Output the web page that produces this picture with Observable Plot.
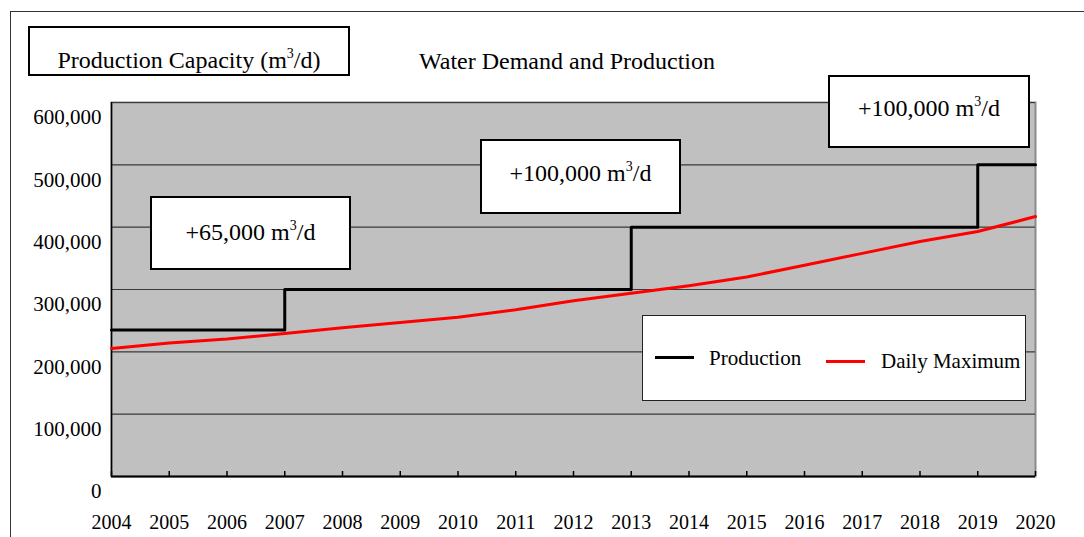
<!DOCTYPE html>
<html>
<head>
<meta charset="utf-8">
<script src="https://cdn.jsdelivr.net/npm/d3@7"></script>
<script src="https://cdn.jsdelivr.net/npm/@observablehq/plot@0.6"></script>
<style>
  html, body { margin: 0; padding: 0; background: #fff; }
  #wrap { position: relative; width: 1084px; height: 537px; overflow: hidden; font-family: "Liberation Serif", "Times New Roman", serif; color: #000; }
  #chart { position: absolute; left: 0; top: 0; }
  .frame { position: absolute; left: 10px; top: 11px; width: 1200px; height: 700px; border-left: 1.5px solid #333; border-top: 1.5px solid #333; }
  .box { position: absolute; background: #fff; border: 2px solid #000; box-sizing: border-box; display: flex; align-items: center; justify-content: center; font-size: 24px; white-space: nowrap; line-height: 1.15; }
  .box span { position: relative; }
  sup { font-size: 14px; vertical-align: 0; position: relative; top: -10px; }
  .txt { position: absolute; font-size: 24px; white-space: nowrap; line-height: 1.15; }
  .legend { position: absolute; background: #fff; border: 1.5px solid #222; box-sizing: border-box; font-size: 21px; }
  .sw { position: absolute; height: 0; }
  .lt { position: absolute; white-space: nowrap; line-height: 1; }
</style>
</head>
<body>
<div id="wrap">
  <div class="frame"></div>
  <div id="chart"></div>
</div>
<script>
const years = [2004, 2005, 2006, 2007, 2008, 2009, 2010, 2011, 2012, 2013, 2014, 2015, 2016, 2017, 2018, 2019, 2020];
const production = [235000, 235000, 235000, 300000, 300000, 300000, 300000, 300000, 300000, 400000, 400000, 400000, 400000, 400000, 400000, 500000, 500000];
const dailyMaximum = [205500, 214000, 220500, 229500, 238500, 247000, 255500, 267500, 282000, 294000, 306000, 320000, 339000, 358000, 377000, 393000, 417000];
const yTicks = [0, 100000, 200000, 300000, 400000, 500000, 600000];
const seriesNames = ["Production", "Daily Maximum"];
const seriesColors = ["#000000", "#ff0000"];
const titleText = "Production Capacity (m<sup>3</sup>/d)";
const subtitleText = "Water Demand and Production";
const annotations = ["+65,000 m<sup>3</sup>/d", "+100,000 m<sup>3</sup>/d", "+100,000 m<sup>3</sup>/d"];

const prodData = years.map((y, i) => ({year: y, value: production[i]}));
const maxData = years.map((y, i) => ({year: y, value: dailyMaximum[i]}));

const plot = Plot.plot({
  width: 1084,
  height: 537,
  marginLeft: 111,
  marginRight: 49,
  marginTop: 102,
  marginBottom: 61,
  style: {fontFamily: "'Liberation Serif', 'Times New Roman', serif", fontSize: "20px", background: "transparent", color: "#000", overflow: "visible"},
  x: {domain: [2004, 2020], ticks: years, label: null},
  y: {domain: [0, 600000], ticks: yTicks, label: null},
  marks: [
    Plot.frame({fill: "#c0c0c0", stroke: "#8a8a8a", strokeWidth: 2}),
    Plot.gridY(yTicks, {stroke: "#3a3a3a", strokeOpacity: 1, strokeWidth: 1.2}),
    Plot.axisY(yTicks, {tickSize: 0, tickPadding: 10, dy: 15, fontSize: 21, label: null, tickFormat: d3.format(",")}),
    Plot.axisX(years, {tickSize: -5, tickFormat: () => "", label: null, stroke: "#000", strokeWidth: 1.5}),
    Plot.axisX(years, {tickSize: 0, tickPadding: 38, label: null, tickFormat: d => String(d)}),
    Plot.ruleX([2004], {stroke: "#000", strokeWidth: 1.5}),
    Plot.ruleY([0], {stroke: "#000", strokeWidth: 2}),
    Plot.line(maxData, {x: "year", y: "value", stroke: seriesColors[1], strokeWidth: 3}),
    Plot.line(prodData, {x: "year", y: "value", stroke: seriesColors[0], strokeWidth: 3, curve: "step-after"})
  ]
});
document.getElementById("chart").appendChild(plot);

const wrap = document.getElementById("wrap");
function addBox(html, l, t, w, h, shift) {
  const d = document.createElement("div");
  d.className = "box";
  d.style.left = l + "px"; d.style.top = t + "px"; d.style.width = w + "px"; d.style.height = h + "px";
  d.innerHTML = `<span style="top:${shift}px">${html}</span>`;
  wrap.appendChild(d);
  return d;
}
// title box
addBox(titleText, 28, 26, 322, 50, 10);
const sub = document.createElement("div");
sub.className = "txt";
sub.style.left = "419px"; sub.style.top = "48px";
sub.textContent = subtitleText;
wrap.appendChild(sub);
// annotation boxes
addBox(annotations[0], 150, 196, 201, 74, 0);
addBox(annotations[1], 480, 139, 201, 75, -3);
addBox(annotations[2], 828, 75, 202, 73, -3);
// legend
const lg = document.createElement("div");
lg.className = "legend";
lg.style.left = "642px"; lg.style.top = "315px"; lg.style.width = "384px"; lg.style.height = "86px";
lg.innerHTML =
  `<div class="sw" style="left:12px;top:40px;width:39px;border-top:3px solid ${seriesColors[0]}"></div>` +
  `<div class="lt" style="left:66px;top:32px">${seriesNames[0]}</div>` +
  `<div class="sw" style="left:183px;top:44px;width:39px;border-top:3px solid ${seriesColors[1]}"></div>` +
  `<div class="lt" style="left:238px;top:35px">${seriesNames[1]}</div>`;
wrap.appendChild(lg);
</script>
</body>
</html>
